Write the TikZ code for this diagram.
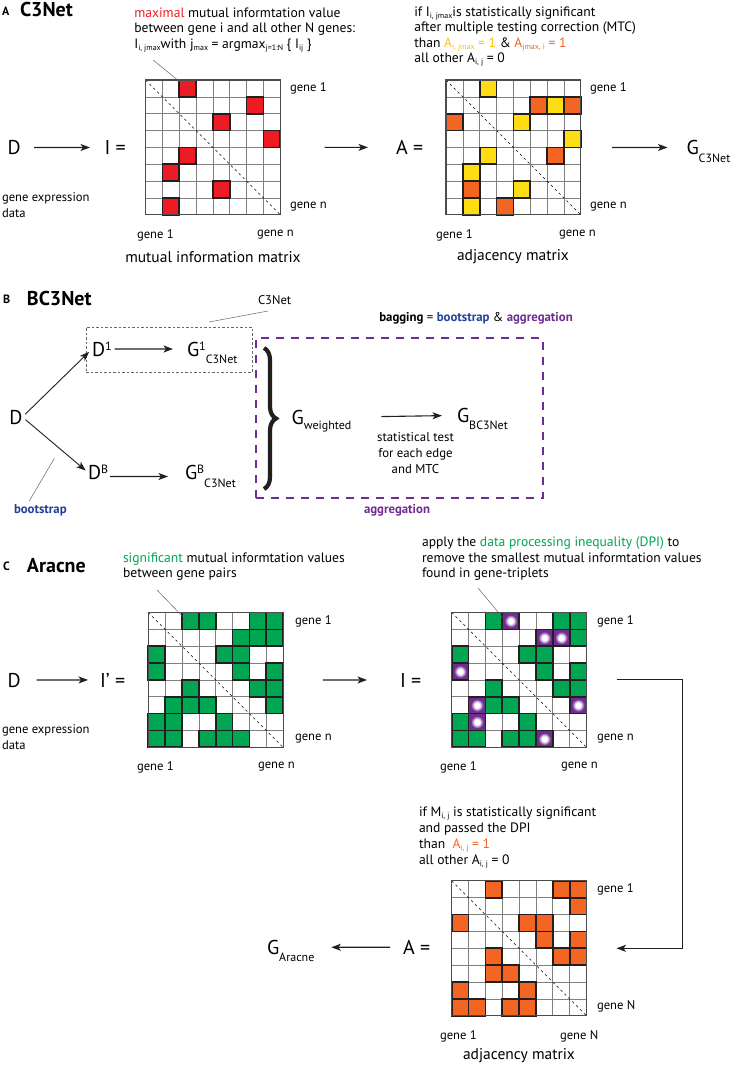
\documentclass[tikz,border=0pt]{standalone}
\usepackage{fontspec}
\setmainfont{PT Sans}
\usepackage{graphicx}
\usetikzlibrary{arrows.meta,decorations.pathreplacing}
\definecolor{cred}{HTML}{ED1C24}
\definecolor{cyel}{HTML}{FFDD15}
\definecolor{tyel}{HTML}{FFC20E}
\definecolor{corg}{HTML}{F26522}
\definecolor{cgrn}{HTML}{00A651}
\definecolor{cpur}{HTML}{6F2C91}
\definecolor{cblu}{HTML}{21409A}
\definecolor{ink}{HTML}{231F20}
\newcommand{\fs}[1]{\fontsize{#1}{#1}\selectfont}
\newcommand{\lo}[2][0.38em]{\smash{\raisebox{-#1}{\scalebox{0.6}{#2}}}}
\newcommand{\los}[1]{\smash{\raisebox{-0.15em}{\scalebox{0.58}{#1}}}}
\newcommand{\hi}[1]{\smash{\raisebox{0.3em}{\scalebox{0.6}{#1}}}}
\def\csz{16.85}
\pgfdeclareradialshading{dpi}{\pgfpoint{0bp}{0bp}}{color(0bp)=(white); color(9bp)=(white); color(21bp)=(cpur); color(50bp)=(cpur)}
\newcommand{\mgrid}[1]{%
  \begin{scope}[shift={(#1.north west)}]
    \foreach \ii in {1,...,7}{\draw[gridline] (\ii*\csz,0) -- (\ii*\csz,8*\csz); \draw[gridline] (0,\ii*\csz) -- (8*\csz,\ii*\csz);}
  \end{scope}}
\newcommand{\mcells}[3]{%
  \begin{scope}[shift={(#1.north west)}]
    \foreach \ri/\ci in {#2}{\path[#3] (\ci*\csz,\ri*\csz) rectangle ++(\csz,\csz);}
  \end{scope}}
\newcommand{\mdots}[2]{%
  \begin{scope}[shift={(#1.north west)}]
    \foreach \ri/\ci in {#2}{\path[cP] (\ci*\csz,\ri*\csz) rectangle ++(\csz,\csz);
      \shade[shading=dpi] ({(\ci+0.5)*\csz},{(\ri+0.5)*\csz}) circle[radius=7.4pt];}
  \end{scope}}
\newcommand{\mfinish}[1]{%
  \draw[diag] (#1.north west) -- (#1.south east);
  \draw[outer] (#1.north west) rectangle (#1.south east);}
\begin{document}
\begin{tikzpicture}[x=1pt,y=-1pt,
  every node/.style={inner sep=0pt,outer sep=0pt},
  gridline/.style={draw=black!50,line width=0.7pt},
  outer/.style={draw=black!70,line width=1.1pt},
  diag/.style={draw=black,line width=0.6pt,dash pattern=on 2.5pt off 3pt},
  cR/.style={fill=cred,draw=ink,line width=1.7pt},
  cY/.style={fill=cyel,draw=ink,line width=1.7pt},
  cO/.style={fill=corg,draw=ink,line width=1.7pt},
  cG/.style={fill=cgrn,draw=ink,line width=1.7pt},
  cP/.style={fill=cpur,draw=ink,line width=1.7pt},
  mat/.style={minimum width=134.8pt,minimum height=134.8pt},
  arr/.style={draw=ink,line width=1.1pt,-{Stealth[length=9.5pt,width=7pt,inset=2.5pt]}},
  lead/.style={draw=black!65,line width=0.45pt},
  big/.style={font=\fs{20}},
  lbl/.style={font=\fs{12.6}},
  txt/.style={font=\fs{13.6}},
  mlab/.style={font=\fs{15.5}},
  hdr/.style={font=\bfseries\fs{20}},
  hdrs/.style={font=\bfseries\fs{12}},
  gbox/.style={draw=black!60,line width=0.8pt,dash pattern=on 2.5pt off 2pt,minimum width=166pt,minimum height=45pt},
  pbox/.style={draw=cpur,line width=2pt,dash pattern=on 8pt off 7pt,minimum width=286.7pt,minimum height=160pt},
  brace/.style={draw=ink,line width=4.2pt,decorate,decoration={brace,amplitude=12pt}}
]
\fill[white] (0,0) rectangle (737,1066);
\useasboundingbox (0,0) rectangle (737,1066);

% ================= A =================
\node[hdrs,anchor=base west] (hA) at (2,15) {A};
\node[hdr,anchor=base west] (tA) at (20,16) {C3Net};
\node[txt,anchor=base west] (ta1) at (134.3,17.3) {{\color{cred}maximal} mutual informtation value};
\node[txt,anchor=base west] (ta2) at (134.3,32.8) {between gene i and all other N genes:};
\node[txt,anchor=base west] (ta3) at (134.3,48.3) {I\los{i, jmax}with j\los{max} = argmax\los{j=1:N} \{ I\los{ij} \}};
\node[txt,anchor=base west] (tb1) at (414.3,16) {if I\los{i, jmax}is statistically significant};
\node[txt,anchor=base west] (tb2) at (414.3,31.5) {after multiple testing correction (MTC)};
\node[txt,anchor=base west] (tb3) at (414.3,47) {than {\color{tyel}A\los{i, jmax} = 1} \& {\color{corg}A\los{jmax, i} = 1}};
\node[txt,anchor=base west] (tb4) at (414.3,62.5) {all other A\los{i, j} = 0};

\node[mat] (M1) at (212.9,147.4) {};
\mgrid{M1}
\mcells{M1}{0/2,1/6,2/4,3/7,4/2,5/1,6/4,7/1}{cR}
\mfinish{M1}
\node[mat] (M2) at (513.4,147.4) {};
\mgrid{M2}
\mcells{M2}{0/2,1/6,2/4,3/7,4/2,5/1,6/4,7/1}{cY}
\mcells{M2}{1/5,1/7,2/0,4/6,6/1,7/3}{cO}
\mfinish{M2}

\begin{scope}[shift={(M1.north west)}]\coordinate (m1c) at (2.55*\csz,0.52*\csz);\end{scope}
\coordinate (la) at (153,60);
\draw[lead] (la) -- (m1c);

\node[big,anchor=base west] (DA) at (7.5,154.5) {D};
\node[big,anchor=base west] (IA) at (104.5,154.5) {I =};
\node[big,anchor=base west] (AA) at (396,154.5) {A =};
\node[big,anchor=base west] (GA) at (686.5,154.5) {G\lo{C3Net}};
\draw[arr,shorten <=13.5pt,shorten >=14.5pt] (DA) -- (IA);
\draw[arr,shorten <=44.2pt,shorten >=28pt] (M1) -- (AA);
\draw[arr,shorten <=31.2pt,shorten >=19pt] (M2) -- (GA);

\node[lbl,anchor=west] (a1) at (290,88.4) {gene 1};
\node[lbl,anchor=west] (a2) at (290,206.4) {gene n};
\node[lbl,anchor=west] (a3) at (137,235) {gene 1};
\node[lbl,anchor=west] (a4) at (257,235) {gene n};
\node[lbl,anchor=west] (a5) at (590,88.4) {gene 1};
\node[lbl,anchor=west] (a6) at (590,206.4) {gene n};
\node[lbl,anchor=west] (a7) at (436,235) {gene 1};
\node[lbl,anchor=west] (a8) at (559,235) {gene n};
\node[lbl,anchor=west] (ge1) at (2,198) {gene expression};
\node[lbl,anchor=west] (ge2) at (2,213) {data};
\node[mlab] (mim) at (213,257) {mutual information matrix};
\node[mlab] (adjA) at (513,257) {adjacency matrix};

% ================= B =================
\node[hdrs,anchor=base west] (hB) at (3,303) {B};
\node[hdr,anchor=base west] (tB) at (27,305) {BC3Net};
\node[lbl,anchor=west] (c3lab) at (258,300.5) {C3Net};
\coordinate (c3a) at (268,311);
\coordinate (c3b) at (209,322);
\draw[lead] (c3a) -- (c3b);
\node[gbox] (gb) at (169,349.5) {};
\node[big,anchor=base west] (DB) at (9.3,424) {D};
\node[big,anchor=base west] (D1) at (92,356) {D\hi{1}};
\node[big,anchor=base west] (G1) at (187,356) {G\hi{1}\lo{C3Net}};
\node[big,anchor=base west] (DBB) at (88,479.5) {D\hi{B}};
\node[big,anchor=base west] (GBB) at (185,479.5) {G\hi{B}\lo{C3Net}};
\draw[arr,line width=0.9pt,shorten <=4pt,shorten >=4pt] (DB.east) -- (D1.west);
\draw[arr,line width=0.9pt,shorten <=4pt,shorten >=3pt] (DB.east) -- (DBB.west);
\draw[arr,shorten <=3pt,shorten >=14pt] (D1) -- (G1);
\draw[arr,shorten <=2pt,shorten >=17pt] ([yshift=-4pt]DBB.east) -- ([yshift=-4pt]GBB.west);
\coordinate (bsa) at (54.3,458.3);
\coordinate (bsb) at (29.3,501);
\draw[lead] (bsa) -- (bsb);
\node[anchor=west,font=\bfseries\fs{12.8},text=cblu] (bsl) at (14,510.5) {bootstrap};
\coordinate (br1) at (264,348);
\coordinate (br2) at (264,489);
\draw[brace] (br1) -- (br2);
\node[pbox] (agg) at (399.35,418.3) {};
\node[big,anchor=base west] (GW) at (291.7,424.5) {G\lo[0.25em]{weighted}};
\node[big,anchor=base west] (GBC) at (457,422) {G\lo{BC3Net}};
\draw[arr,shorten <=30pt,shorten >=15pt] (GW) -- (GBC);
\node[anchor=base,font=\fs{12.8}] (st1) at (415.5,441) {statistical test};
\node[anchor=base,font=\fs{12.8}] (st2) at (415.5,457) {for each edge};
\node[anchor=base,font=\fs{12.8}] (st3) at (415.5,473) {and MTC};
\node[anchor=base west,font=\fs{12.8}] (bag) at (379.3,321) {\textbf{bagging} = {\color{cblu}\textbf{bootstrap}} \& {\color{cpur}\textbf{aggregation}}};
\node[anchor=west,font=\bfseries\fs{12.8},text=cpur] (aggl) at (364,510.5) {aggregation};

% ================= C =================
\node[hdrs,anchor=base west] (hC) at (3,570) {C};
\node[hdr,anchor=base west] (tC) at (27,572) {Aracne};
\node[txt,anchor=base west] (tc1) at (123,562) {{\color{cgrn}significant} mutual informtation values};
\node[txt,anchor=base west] (tc2) at (123,577.5) {between gene pairs};
\node[txt,anchor=base west] (td1) at (422,546) {apply the {\color{cgrn}data processing inequality (DPI)} to};
\node[txt,anchor=base west] (td2) at (422,562) {remove the smallest mutual informtation values};
\node[txt,anchor=base west] (td3) at (422,577.5) {found in gene-triplets};
\node[txt,anchor=base west] (te1) at (419,816) {if M\los{i, j} is statistically significant};
\node[txt,anchor=base west] (te2) at (419,832) {and passed the DPI};
\node[txt,anchor=base west] (te3) at (419,848) {than\ \ {\color{corg}A\los{i, j} = 1}};
\node[txt,anchor=base west] (te4) at (419,864) {all other A\los{i, j} = 0};

\node[mat] (M3) at (215.7,679.9) {};
\mgrid{M3}
\mcells{M3}{0/2,0/3,0/6,0/7,1/5,1/6,1/7,2/0,2/4,2/5,3/0,3/5,3/7,4/2,4/6,4/7,5/1,5/2,5/3,5/7,6/0,6/1,6/4,7/0,7/1,7/3,7/4,7/5}{cG}
\mfinish{M3}
\node[mat] (M4) at (519.1,679.9) {};
\mgrid{M4}
\mcells{M4}{0/2,0/6,0/7,1/7,2/0,2/4,2/5,3/5,3/7,4/2,4/6,4/7,5/2,5/3,6/0,6/4,7/0,7/1,7/3,7/4}{cG}
\mdots{M4}{0/3,1/5,1/6,3/0,5/1,5/7,6/1,7/5}
\mfinish{M4}
\node[mat] (M5) at (519.1,948.3) {};
\mgrid{M5}
\mcells{M5}{0/2,0/6,0/7,1/7,2/0,2/4,2/5,3/5,3/7,4/2,4/6,4/7,5/2,5/3,6/0,6/4,7/0,7/1,7/3,7/4}{cO}
\mfinish{M5}

\begin{scope}[shift={(M3.north west)}]\coordinate (m3c) at (2.25*\csz,0.45*\csz);\end{scope}
\begin{scope}[shift={(M4.north west)}]\coordinate (m4c) at (3.15*\csz,0.45*\csz);\end{scope}
\coordinate (lc) at (157,590);
\coordinate (ld) at (478,588);
\draw[lead] (lc) -- (m3c);
\draw[lead] (ld) -- (m4c);

\node[big,anchor=base west] (DC) at (7.5,687) {D};
\node[big,anchor=base west] (IpC) at (100,687) {I’ =};
\node[big,anchor=base west] (IC) at (400,687) {I =};
\draw[arr,shorten <=16pt,shorten >=12pt] (DC) -- (IpC);
\draw[arr,shorten <=39.7pt,shorten >=33pt] (M3) -- (IC);
\draw[arr] ([xshift=30pt]M4.east) -- ++(66,0) |- ([xshift=30pt]M5.east);
\node[big,anchor=base west] (AC) at (403,954.3) {A =};
\node[big,anchor=base west] (GC) at (267,954.3) {G\lo{Aracne}};
\draw[arr,shorten <=13pt,shorten >=17pt] (AC) -- (GC);

\node[lbl,anchor=west] (c1) at (295,621) {gene 1};
\node[lbl,anchor=west] (c2) at (295,738.5) {gene n};
\node[lbl,anchor=west] (c3) at (137,767) {gene 1};
\node[lbl,anchor=west] (c4) at (258,767) {gene n};
\node[lbl,anchor=west] (c5) at (597,621) {gene 1};
\node[lbl,anchor=west] (c6) at (597,738.5) {gene n};
\node[lbl,anchor=west] (c7) at (440,767) {gene 1};
\node[lbl,anchor=west] (c8) at (561,767) {gene n};
\node[lbl,anchor=west] (c9) at (597,889.4) {gene 1};
\node[lbl,anchor=west] (c10) at (597,1006.6) {gene N};
\node[lbl,anchor=west] (c11) at (440,1036) {gene 1};
\node[lbl,anchor=west] (c12) at (560,1036) {gene N};
\node[lbl,anchor=west] (ge3) at (2,730.5) {gene expression};
\node[lbl,anchor=west] (ge4) at (2,745.5) {data};
\node[mlab] (adjC) at (519,1056) {adjacency matrix};
\end{tikzpicture}
\end{document}
